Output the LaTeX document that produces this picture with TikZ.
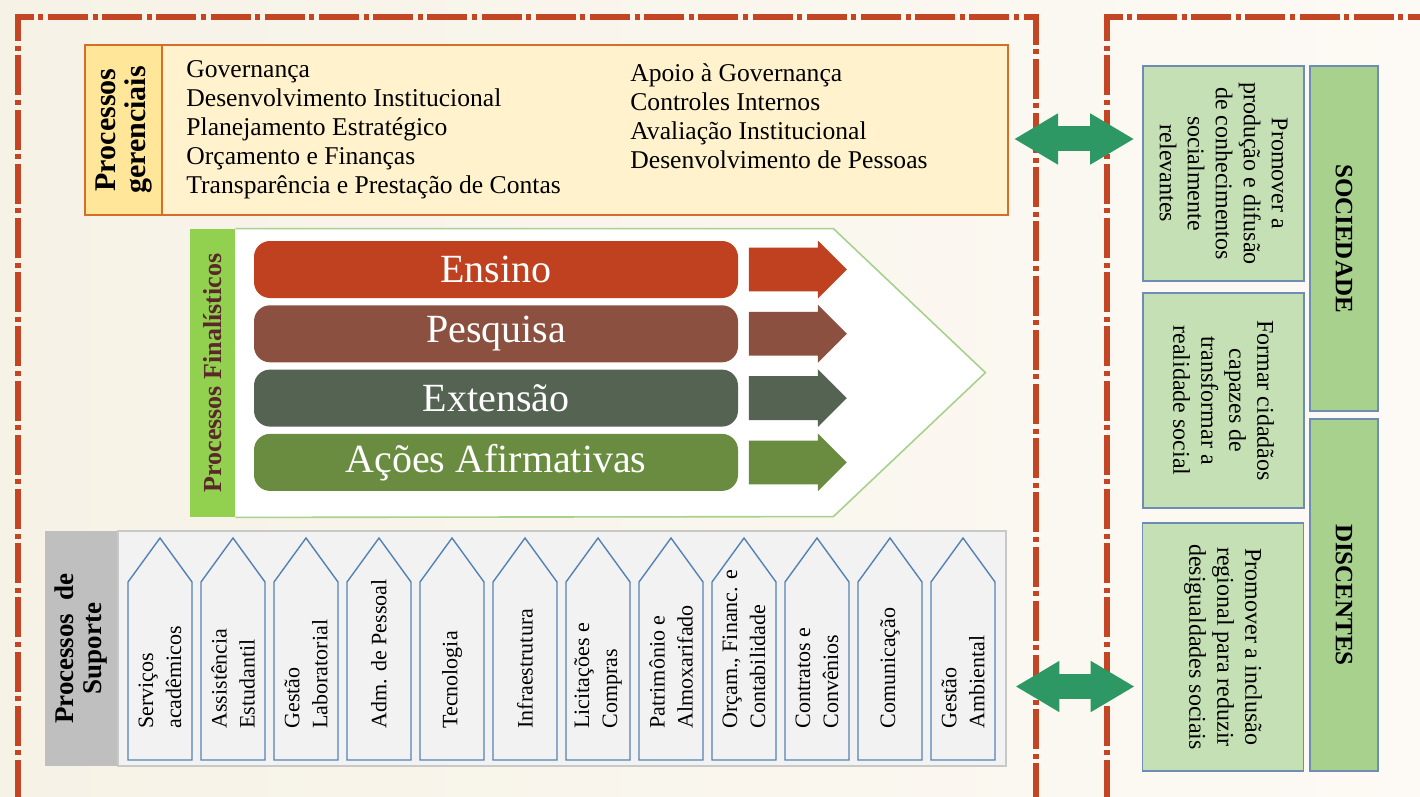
\documentclass[tikz,border=0pt]{standalone}
\usepackage{fontspec}
\setmainfont{Liberation Serif}
\usetikzlibrary{positioning,shapes.arrows,arrows.meta}

\definecolor{bgleft}{RGB}{246,242,230}
\definecolor{bgright}{RGB}{253,250,245}
\definecolor{framered}{RGB}{196,69,36}
\definecolor{gerborder}{RGB}{214,110,40}
\definecolor{gerfill}{RGB}{255,242,204}
\definecolor{gerlabel}{RGB}{255,230,153}
\definecolor{fingreen}{RGB}{146,208,80}
\definecolor{finframe}{RGB}{169,209,142}
\definecolor{fintext}{RGB}{90,40,40}
\definecolor{ensino}{RGB}{192,65,32}
\definecolor{pesquisa}{RGB}{139,80,64}
\definecolor{extensao}{RGB}{84,99,82}
\definecolor{acoes}{RGB}{106,140,64}
\definecolor{supgray}{RGB}{191,191,191}
\definecolor{suppanel}{RGB}{242,242,242}
\definecolor{supborder}{RGB}{200,200,200}
\definecolor{supblue}{RGB}{84,130,180}
\definecolor{goalfill}{RGB}{197,224,180}
\definecolor{goalside}{RGB}{169,209,142}
\definecolor{goalborder}{RGB}{110,140,180}
\definecolor{arrowgreen}{RGB}{46,152,100}

\begin{document}
\begin{tikzpicture}[
		x=0.5pt, y=-0.5pt,
		frame/.style={draw=framered, line width=3.2pt, dash pattern=on 20pt off 2.3pt on 2.5pt off 2.3pt},
		gerbox/.style={rectangle, draw=gerborder, line width=1pt, fill=gerfill, inner sep=0pt},
		gerlbl/.style={rectangle, draw=gerborder, line width=1pt, fill=gerlabel, align=center, inner sep=0pt, font=\bfseries\fontsize{15}{15}\selectfont},
		gertext/.style={align=left, inner sep=0pt, font=\fontsize{12.8}{14.5}\selectfont},
		finlbl/.style={rectangle, fill=fingreen, text=fintext, inner sep=0pt, font=\bfseries\fontsize{13}{14}\selectfont},
		finframe/.style={draw=finframe, line width=0.8pt, fill=white},
		bar/.style={rectangle, rounded corners=8pt, minimum width=242pt, minimum height=28.5pt, text=white, inner sep=0pt, font=\fontsize{20}{20}\selectfont},
		flow/.style={single arrow, single arrow head extend=3.5pt, single arrow tip angle=90, minimum height=49pt, inner xsep=0pt, inner ysep=10.75pt},
		suplbl/.style={rectangle, fill=supgray, align=center, inner sep=0pt, font=\bfseries\fontsize{13.5}{14}\selectfont},
		suppanel/.style={rectangle, draw=supborder, line width=1pt, fill=suppanel, inner sep=0pt},
		suphouse/.style={draw=supblue, line width=0.7pt, fill=suppanel},
		suptext/.style={rotate=90, anchor=west, align=left, inner sep=0pt, font=\fontsize{11}{14}\selectfont},
		goal/.style={rectangle, draw=goalborder, line width=0.8pt, fill=goalfill, rotate=-90, align=center, inner sep=0pt, font=\fontsize{12}{14}\selectfont},
		side/.style={rectangle, draw=goalborder, line width=0.8pt, fill=goalside, rotate=-90, inner sep=0pt, minimum height=34pt, font=\bfseries\fontsize{12.5}{14}\selectfont},
		link/.style={draw=arrowgreen, line width=12.5pt, {Triangle[length=22pt,width=24pt]}-{Triangle[length=22pt,width=24pt]}},
		]
		\useasboundingbox (0,0) rectangle (1420,797);
		\clip (0,0) rectangle (1420,797);
		\fill[left color=bgleft, right color=bgright] (0,0) rectangle (1420,797);

		%Frames
		\draw[frame] (18,800) -- (18,17) -- (1036,17) -- (1036,800);
		\draw[frame] (1107,800) -- (1107,17) -- (1425,17);

		%Processos gerenciais
		\node[gerbox, minimum width=461.5pt, minimum height=85pt] (ger) at (546.5,130) {};
		\node[gerlbl, rotate=90, minimum width=85pt, minimum height=38.5pt, anchor=north] (gerlabel) at (ger.west) {Processos\\gerenciais};
		\node[gertext, anchor=north west] (gerleft) at (186,60) {Governança\\Desenvolvimento Institucional\\Planejamento Estratégico\\Orçamento e Finanças\\Transparência e Prestação de Contas};
		\node[gertext, anchor=north west] (gerright) at (630,63) {Apoio à Governança\\Controles Internos\\Avaliação Institucional\\Desenvolvimento de Pessoas};

		%Processos finalisticos
		\node[finlbl, rotate=90, minimum width=144pt, minimum height=22.5pt] (finlabel) at (212.5,373) {Processos Finalísticos};
		\draw[finframe] (finlabel.south east) -- ++(598,0) -- ++(152,144) -- ++(-152,144) -- (finlabel.south west);

		\node[bar, fill=ensino] (ensino) at (496,269.5) {Ensino};
		\node[bar, fill=pesquisa, below=3.25pt of ensino] (pesquisa) {Pesquisa};
		\node[bar, fill=extensao, below=3.25pt of pesquisa] (extensao) {Extensão};
		\node[bar, fill=acoes, below=3.25pt of extensao] (acoes) {Ações Afirmativas};

		\node[flow, fill=ensino, right=5pt of ensino] (ensino_arr) {};
		\node[flow, fill=pesquisa, right=5pt of pesquisa] (pesquisa_arr) {};
		\node[flow, fill=extensao, right=5pt of extensao] (extensao_arr) {};
		\node[flow, fill=acoes, right=5pt of acoes] (acoes_arr) {};

		%Processos de suporte
		\node[suplbl, rotate=90, minimum width=117.5pt, minimum height=36pt] (suplabel) at (81,648.5) {Processos\ \ de\\Suporte};
		\node[suppanel, minimum width=444pt, minimum height=117.5pt, anchor=west] (suporte) at (suplabel.south) {};
		\foreach \lbl [count=\i] in {{Serviços\\acadêmicos}, {Assistência\\Estudantil}, {Gestão\\Laboratorial}, {Adm. de Pessoal}, {Tecnologia}, {Infraestrutura}, {Licitações e\\Compras}, {Patrimônio e\\Almoxarifado}, {Orçam., Financ. e\\Contabilidade}, {Contratos e\\Convênios}, {Comunicação}, {Gestão\\Ambiental}} {
			\draw[suphouse] (\i*73+55,760) -- ++(0,-178) -- ++(32,-44) -- ++(32,44) -- ++(0,178) -- cycle;
			\node[suptext] (sup\i) at (\i*73+87,729) {\lbl};
		}

		%Sociedade / Discentes
		\node[goal, minimum width=107.5pt, minimum height=80.5pt] (conhec) at (1223.5,173.5) {Promover a\\produção e difusão\\de conhecimentos\\socialmente\\relevantes};
		\node[goal, minimum width=107.5pt, minimum height=80.5pt] (cidadaos) at (1223.5,400.5) {Formar cidadãos\\capazes de\\transformar a\\realidade social};
		\node[goal, minimum width=124pt, minimum height=80.5pt] (inclusao) at (1223,647) {Promover a inclusão\\regional para reduzir\\desigualdades sociais};
		\node[side, minimum width=172.5pt] (sociedade) at (1344,238.5) {SOCIEDADE};
		\node[side, minimum width=176pt] (discentes) at (1344,595) {DISCENTES};

		%Links
		\draw[link] ([xshift=2.5pt,yshift=-4.5pt]ger.east) -- ([xshift=-4pt,yshift=-4.5pt]ger.east -| conhec.south);
		\draw[link] ([xshift=4pt,yshift=-19pt]suporte.east) -- ([xshift=-3.5pt,yshift=-19pt]suporte.east -| inclusao.south);
	\end{tikzpicture}
\end{document}
